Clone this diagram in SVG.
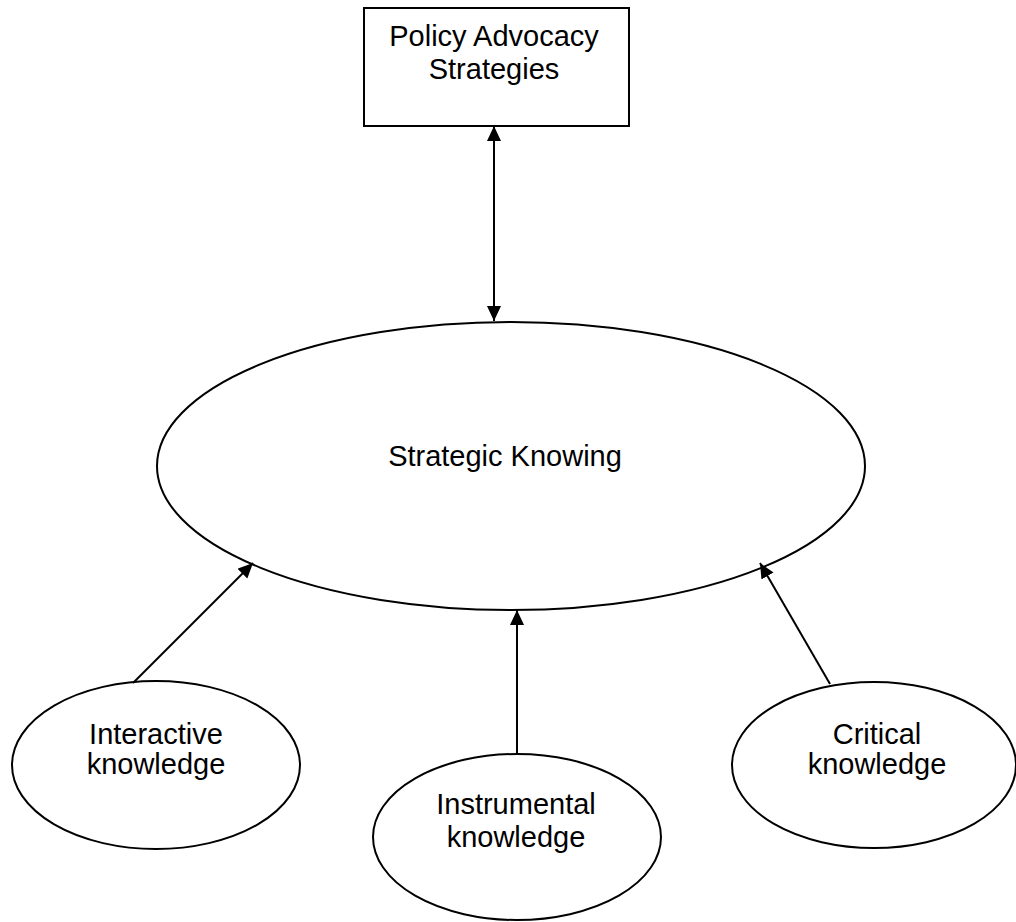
<svg xmlns="http://www.w3.org/2000/svg" width="1016" height="922" viewBox="0 0 1016 922">
<style>
.shape{fill:#fff;stroke:#000;stroke-width:2}
.lbl{font-family:"Liberation Sans",Arial,sans-serif;font-size:29px;fill:#000;text-anchor:middle}
.conn{stroke:#000;stroke-width:2;fill:none}
</style>
<defs>
<marker id="ah" markerUnits="userSpaceOnUse" markerWidth="16" markerHeight="15" refX="15" refY="7" orient="auto-start-reverse">
<path d="M0,0 L15,7 L0,14 z" fill="#000"/>
</marker>
</defs>
<rect width="1016" height="922" fill="#fff"/>
<g id="policy">
<rect class="shape" x="364" y="8" width="265" height="118"/>
<text class="lbl" x="494" y="46">Policy Advocacy</text>
<text class="lbl" x="494" y="79">Strategies</text>
</g>
<g id="strategic">
<ellipse class="shape" cx="511" cy="466" rx="354" ry="144"/>
<text class="lbl" x="505" y="466">Strategic Knowing</text>
</g>
<g id="interactive">
<ellipse class="shape" cx="156" cy="765" rx="144" ry="84"/>
<text class="lbl" x="156" y="744">Interactive</text>
<text class="lbl" x="156" y="774">knowledge</text>
</g>
<g id="instrumental">
<ellipse class="shape" cx="517" cy="837" rx="144" ry="83"/>
<text class="lbl" x="516" y="814">Instrumental</text>
<text class="lbl" x="516" y="847">knowledge</text>
</g>
<g id="critical">
<ellipse class="shape" cx="874" cy="765" rx="142" ry="83"/>
<text class="lbl" x="877" y="744">Critical</text>
<text class="lbl" x="877" y="774">knowledge</text>
</g>
<g id="connectors">
<line class="conn" x1="494" y1="126" x2="494" y2="321" marker-start="url(#ah)" marker-end="url(#ah)"/>
<line class="conn" x1="133" y1="683" x2="253" y2="563" marker-end="url(#ah)"/>
<line class="conn" x1="517" y1="754" x2="517" y2="610" marker-end="url(#ah)"/>
<line class="conn" x1="830" y1="684" x2="760" y2="563" marker-end="url(#ah)"/>
</g>
</svg>
